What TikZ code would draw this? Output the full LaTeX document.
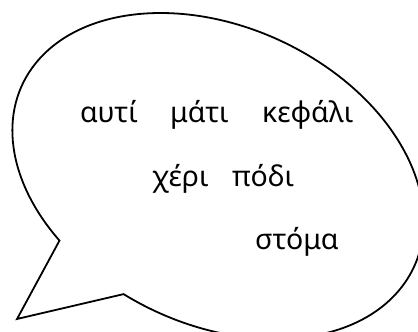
\documentclass[tikz,border=0pt]{standalone}
\usepackage{fontspec}
\setmainfont{Noto Sans}
\begin{document}
\begin{tikzpicture}[x=1pt,y=1pt,
    word/.style={anchor=base west,inner sep=0pt,font=\fontsize{28.5}{32}\selectfont}]
        \useasboundingbox (0,0) rectangle (418,332);
        \clip (0,0) rectangle (418,332);
        \begin{scope}[shift={(218,156)},rotate=-25]
          \draw[line width=1.8pt,line join=miter] (260.5:216 and 149)
            arc[start angle=260.5,end angle=597.4,x radius=216,y radius=149]
            -- (-121.7,-214.5) -- cycle;
        \end{scope}
        \node[word] (auti) at (80,209) {αυτί};
        \node[word] (mati) at (170,209) {μάτι};
        \node[word] (kefali) at (262,209) {κεφάλι};
        \node[word] (cheri) at (152,145) {χέρι};
        \node[word] (podi) at (232,145) {πόδι};
        \node[word] (stoma) at (255,82) {στόμα};
      \end{tikzpicture}
\end{document}
